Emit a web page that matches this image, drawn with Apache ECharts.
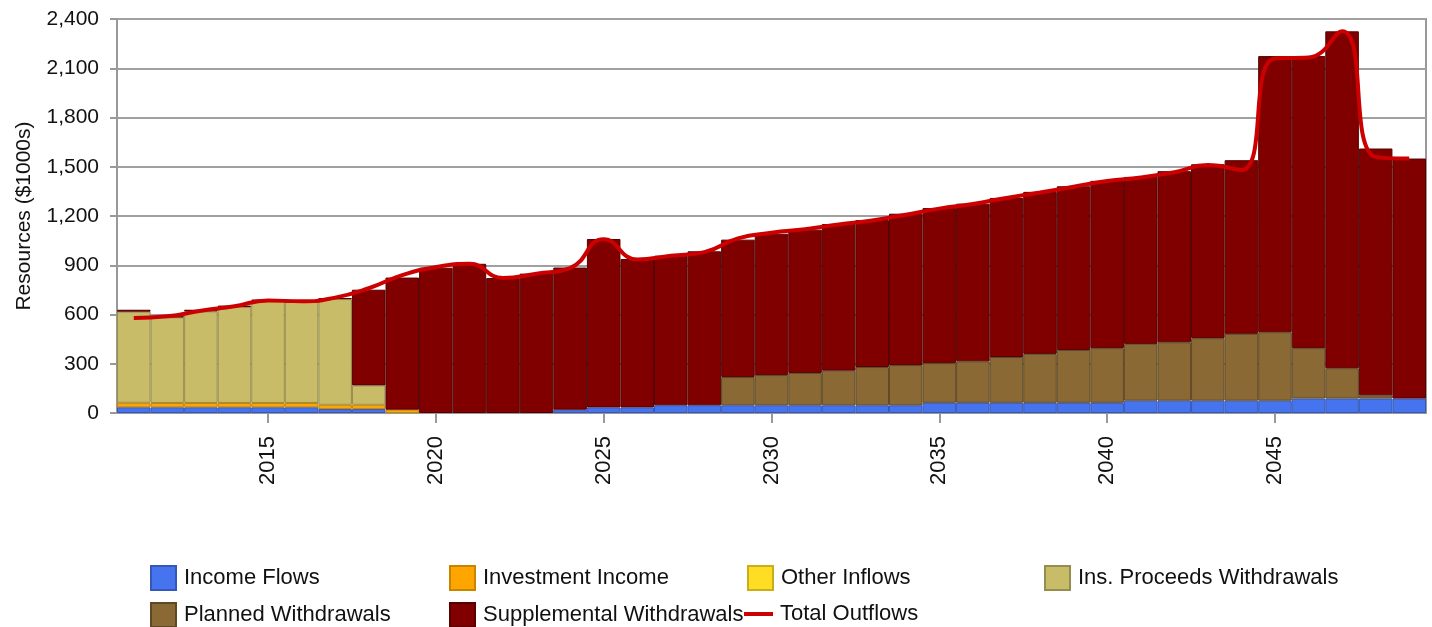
<!DOCTYPE html>
<html>
<head>
<meta charset="utf-8">
<script src="https://cdn.jsdelivr.net/npm/echarts@6/dist/echarts.min.js"></script>
<style>
html,body{margin:0;padding:0;background:#fff;}
#chart{width:1432px;height:627px;}
</style>
</head>
<body>
<div id="chart"></div>
<script>
// ---- data (values in $1000s) ----
var years = [2011,2012,2013,2014,2015,2016,2017,2018,2019,2020,2021,2022,2023,2024,2025,2026,2027,2028,2029,2030,2031,2032,2033,2034,2035,2036,2037,2038,2039,2040,2041,2042,2043,2044,2045,2046,2047,2048,2049];
var incomeFlows = [35,35,35,35,35,35,24,24,0,0,0,0,0,20,34,34,47,47,47,47,47,47,47,47,62,62,62,62,62,62,75,75,75,75,75,88,88,88,88];
var investmentIncome = [27,26,26,26,26,26,26,26,20,0,0,0,0,0,0,0,0,0,0,0,0,0,0,0,0,0,0,0,0,0,0,0,0,0,0,0,0,0,0];
var otherInflows = [0,0,0,0,0,0,0,0,0,0,0,0,0,0,0,0,0,0,0,0,0,0,0,0,0,0,0,0,0,0,0,0,0,0,0,0,0,0,0];
var insProceeds = [555,522,558,585,623,615,644,118,0,0,0,0,0,0,0,0,0,0,0,0,0,0,0,0,0,0,0,0,0,0,0,0,0,0,0,0,0,0,0];
var plannedWithdrawals = [0,0,0,0,0,0,0,0,0,0,0,0,0,0,0,0,0,0,172,184,197,211,233,245,242,253,279,298,322,333,346,356,381,407,417,307,185,20,0];
var supplementalWithdrawals = [12,6,10,8,6,3,6,583,805,885,909,822,849,866,1026,904,911,938,837,861,873,893,895,922,944,960,969,987,997,1019,1017,1042,1059,1058,1682,1779,2052,1503,1462];
var totalOutflows = [578,589,623,650,686,680,703,760,840,889,909,822,849,883,1058,935,958,980,1064,1098,1120,1148,1173,1208,1245,1273,1310,1343,1378,1413,1435,1467,1510,1480,2160,2165,2325,1560,1550];
var yTicks = {min:0, max:2400, interval:300};

var FONT = '"Liberation Sans", Arial, sans-serif';
function nz(arr){ return arr.map(function(v){ return v === 0 ? null : v; }); }

var barDefs = [
  {name:'Income Flows', data:incomeFlows, color:'#4673EE', border:'#3558B8'},
  {name:'Investment Income', data:investmentIncome, color:'#FFA500', border:'#C98400'},
  {name:'Other Inflows', data:otherInflows, color:'#FFDD22', border:'#C9AE1A'},
  {name:'Ins. Proceeds Withdrawals', data:insProceeds, color:'#C8BC68', border:'#968C4E'},
  {name:'Planned Withdrawals', data:plannedWithdrawals, color:'#8A6935', border:'#5E4826'},
  {name:'Supplemental Withdrawals', data:supplementalWithdrawals, color:'#800000', border:'#560000'}
];

var series = barDefs.map(function(d){
  return {
    name:d.name, type:'bar', stack:'res', barCategoryGap:'0%',
    data:nz(d.data),
    itemStyle:{color:d.color, borderColor:d.border, borderWidth:1},
    emphasis:{disabled:true}
  };
});
series.push({
  name:'Total Outflows', type:'line', data:totalOutflows, smooth:0.5,
  showSymbol:false, symbol:'none', z:10,
  lineStyle:{color:'#CC0000', width:4}, itemStyle:{color:'#CC0000'},
  emphasis:{disabled:true}
});

var legendPos = [
  {name:'Income Flows', left:150, top:565},
  {name:'Investment Income', left:449, top:565},
  {name:'Other Inflows', left:747, top:565},
  {name:'Ins. Proceeds Withdrawals', left:1044, top:565},
  {name:'Planned Withdrawals', left:150, top:602},
  {name:'Supplemental Withdrawals', left:449, top:602}
];
var legends = legendPos.map(function(p){
  return {
    data:[p.name], left:p.left, top:p.top, orient:'horizontal',
    itemWidth:25, itemHeight:24, padding:0, selectedMode:false,
    icon:'rect',
    textStyle:{fontFamily:FONT, fontSize:22, color:'#111', padding:[0,0,0,3]}
  };
});
legends.push({
  data:[{name:'Total Outflows', icon:'rect'}], left:744, top:602, padding:0,
  itemWidth:29, itemHeight:4, selectedMode:false, height:24,
  textStyle:{fontFamily:FONT, fontSize:22, color:'#111', padding:[0,0,0,2], lineHeight:24}
});

var chart = echarts.init(document.getElementById('chart'), null, {renderer:'canvas'});
chart.setOption({
  animation:false,
  backgroundColor:'#fff',
  grid:{left:117, right:6, top:19, bottom:214, show:true, borderColor:'#999', borderWidth:2, backgroundColor:'transparent'},
  legend:legends,
  xAxis:{
    type:'category', data:years.map(String), boundaryGap:true,
    axisLine:{show:true, lineStyle:{color:'#999', width:2}},
    axisTick:{show:true, alignWithLabel:true, length:10, lineStyle:{color:'#999', width:2},
      interval:function(i, v){ return (+v) % 5 === 0; }},
    axisLabel:{rotate:90, margin:23, fontFamily:FONT, fontSize:22, color:'#111',
      interval:function(i, v){ return (+v) % 5 === 0; }},
    splitLine:{show:false}
  },
  yAxis:{
    type:'value', min:yTicks.min, max:yTicks.max, interval:yTicks.interval,
    name:'Resources ($1000s)', nameLocation:'middle', nameGap:82, nameRotate:90,
    nameTextStyle:{fontFamily:FONT, fontSize:21, color:'#111'},
    axisLine:{show:true, lineStyle:{color:'#999', width:2}},
    axisTick:{show:true, length:7, lineStyle:{color:'#999', width:2}},
    axisLabel:{margin:18, fontFamily:FONT, fontSize:21, color:'#111',
      formatter:function(v){ return v.toLocaleString('en-US'); }},
    splitLine:{show:true, lineStyle:{color:'#a0a0a0', width:2}}
  },
  series:series
});
</script>
</body>
</html>
